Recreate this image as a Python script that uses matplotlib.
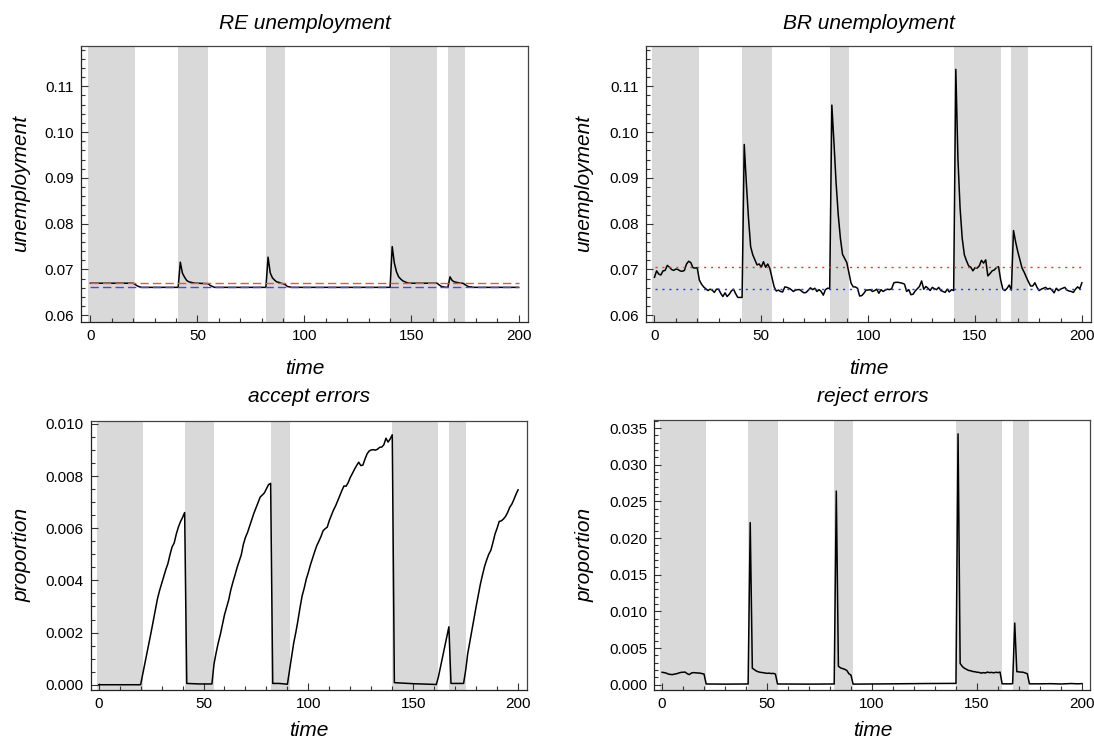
import matplotlib
matplotlib.use("Agg")
import matplotlib.pyplot as plt
from matplotlib.ticker import MultipleLocator, FixedLocator, FormatStrFormatter

plt.rcParams['font.family'] = ['Liberation Sans', 'DejaVu Sans']

# ---------------- data ----------------
BAND_START = [-1, 41, 82, 140, 167]
BAND_END = [21, 55, 91, 162, 175]

# RE unemployment
RE_T = [0, 20, 21, 22, 23, 24, 41, 42, 43, 44, 45, 46, 47, 48, 49, 50, 55, 56, 57, 58,
        82, 83, 84, 85, 86, 87, 88, 89, 90, 91, 92, 93, 94,
        140, 141, 142, 143, 144, 145, 146, 147, 148, 149, 150, 162, 163, 164, 165, 166, 167,
        168, 169, 170, 171, 172, 173, 174, 175, 176, 177, 178, 179, 200]
RE_U = [0.0670, 0.0670, 0.0667, 0.0664, 0.0662, 0.0661, 0.0661, 0.0716, 0.0692, 0.0683, 0.0676,
        0.0673, 0.0672, 0.0671, 0.0670, 0.0670, 0.0669, 0.0665, 0.0663, 0.0661,
        0.0661, 0.0727, 0.0693, 0.0682, 0.0677, 0.0673, 0.0672, 0.0670, 0.0669, 0.0667, 0.0663,
        0.0662, 0.0661,
        0.0661, 0.0750, 0.0714, 0.0695, 0.0684, 0.0679, 0.0675, 0.0673, 0.0671, 0.0670, 0.0670,
        0.0670, 0.0666, 0.0663, 0.0662, 0.0661, 0.0661,
        0.0684, 0.0676, 0.0673, 0.0672, 0.0671, 0.0670, 0.0670, 0.0667, 0.0664, 0.0662, 0.0662,
        0.0661, 0.0661]
RE_HIGH = 0.0670
RE_LOW = 0.0661

# BR unemployment (t = 0..200)
BR_U = [0.0683, 0.0697, 0.0690, 0.0688, 0.0697, 0.0698, 0.0709, 0.0705, 0.0700, 0.0698,
        0.0701, 0.0700, 0.0697, 0.0696, 0.0698, 0.0712, 0.0718, 0.0715, 0.0704, 0.0703,
        0.0704, 0.0677, 0.0668, 0.0662, 0.0658, 0.0654, 0.0657, 0.0655, 0.0650, 0.0657,
        0.0657, 0.0648, 0.0641, 0.0649, 0.0641, 0.0646, 0.0653, 0.0657, 0.0647, 0.0639,
        0.0639, 0.0639, 0.0973, 0.0888, 0.0812, 0.0750, 0.0732, 0.0721, 0.0710, 0.0712,
        0.0705, 0.0717, 0.0705, 0.0712, 0.0702, 0.0682, 0.0662, 0.0653, 0.0655, 0.0652,
        0.0651, 0.0662, 0.0661, 0.0659, 0.0656, 0.0652, 0.0655, 0.0656, 0.0656, 0.0652,
        0.0649, 0.0650, 0.0655, 0.0660, 0.0656, 0.0659, 0.0652, 0.0656, 0.0652, 0.0644,
        0.0656, 0.0659, 0.0659, 0.1059, 0.0976, 0.0888, 0.0819, 0.0768, 0.0733, 0.0724,
        0.0715, 0.0692, 0.0670, 0.0662, 0.0662, 0.0659, 0.0642, 0.0643, 0.0648, 0.0655,
        0.0655, 0.0656, 0.0652, 0.0654, 0.0657, 0.0648, 0.0656, 0.0652, 0.0655, 0.0657,
        0.0656, 0.0658, 0.0671, 0.0672, 0.0672, 0.0671, 0.0670, 0.0668, 0.0652, 0.0656,
        0.0645, 0.0646, 0.0653, 0.0658, 0.0663, 0.0675, 0.0657, 0.0663, 0.0659, 0.0654,
        0.0661, 0.0658, 0.0656, 0.0661, 0.0654, 0.0652, 0.0650, 0.0657, 0.0651, 0.0656,
        0.0654, 0.1137, 0.0941, 0.0834, 0.0768, 0.0732, 0.0719, 0.0708, 0.0705, 0.0697,
        0.0704, 0.0703, 0.0708, 0.0720, 0.0714, 0.0721, 0.0686, 0.0691, 0.0697, 0.0699,
        0.0704, 0.0706, 0.0677, 0.0657, 0.0654, 0.0659, 0.0666, 0.0655, 0.0785, 0.0760,
        0.0739, 0.0721, 0.0703, 0.0694, 0.0683, 0.0673, 0.0664, 0.0664, 0.0671, 0.0661,
        0.0654, 0.0657, 0.0659, 0.0661, 0.0657, 0.0659, 0.0655, 0.0649, 0.0659, 0.0654,
        0.0657, 0.0659, 0.0661, 0.0655, 0.0653, 0.0652, 0.0650, 0.0657, 0.0662, 0.0658,
        0.0671]
BR_T = list(range(len(BR_U)))
BR_HIGH = 0.0705
BR_LOW = 0.0657

# accept errors
AE_T = [0, 20, 21, 22, 23, 24, 25, 26, 27, 28, 29, 30, 31, 32, 33, 34, 35, 36, 37, 38, 39, 40, 41,
        42, 48, 54, 55, 56, 57, 58, 59, 60, 61, 62, 63, 64, 65, 66, 67, 68, 69, 70, 71, 72, 73,
        74, 75, 76, 77, 78, 79, 80, 81, 82,
        83, 86, 90, 91, 92, 93, 94, 95, 96, 97, 98, 99, 100, 101, 102, 103, 104, 105, 106, 107,
        108, 109, 110, 111, 112, 113, 114, 115, 116, 117, 118, 119, 120, 121, 122, 123, 124,
        125, 126, 127, 128, 129, 130, 131, 132, 133, 134, 135, 136, 137, 138, 139, 140,
        141, 150, 161, 162, 163, 164, 165, 166, 167, 168, 174, 175, 176, 177, 178, 179, 180,
        181, 182, 183, 184, 185, 186, 187, 188, 189, 190, 191, 192, 193, 194, 195, 196, 197,
        198, 199, 200]
AE_V = [0.0, 0.0, 0.00040, 0.00082, 0.00121, 0.00161, 0.00201, 0.00243, 0.00287, 0.00328,
        0.00360, 0.00387, 0.00413, 0.00441, 0.00464, 0.00498, 0.00528, 0.00543, 0.00577,
        0.00604, 0.00625, 0.00641, 0.00660,
        0.00005, 0.00003, 0.00003, 0.00080, 0.00122, 0.00160, 0.00192, 0.00230, 0.00268,
        0.00296, 0.00325, 0.00363, 0.00393, 0.00420, 0.00449, 0.00473, 0.00498, 0.00538,
        0.00565, 0.00584, 0.00608, 0.00632, 0.00657, 0.00677, 0.00698, 0.00719, 0.00727,
        0.00735, 0.00751, 0.00767, 0.00772,
        0.00005, 0.00005, 0.00002, 0.00055, 0.00110, 0.00160, 0.00200, 0.00245, 0.00295,
        0.00340, 0.00370, 0.00405, 0.00431, 0.00460, 0.00485, 0.00510, 0.00533, 0.00550,
        0.00568, 0.00590, 0.00598, 0.00604, 0.00630, 0.00650, 0.00670, 0.00686, 0.00705,
        0.00725, 0.00745, 0.00762, 0.00761, 0.00775, 0.00795, 0.00810, 0.00826, 0.00840,
        0.00853, 0.00840, 0.00842, 0.00865, 0.00885, 0.00896, 0.00900, 0.00901, 0.00899,
        0.00903, 0.00910, 0.00911, 0.00920, 0.00945, 0.00930, 0.00942, 0.00958,
        0.00008, 0.00004, 0.00001, 0.00030, 0.00068, 0.00105, 0.00143, 0.00182, 0.00222,
        0.00005, 0.00005, 0.00055, 0.00120, 0.00165, 0.00210, 0.00255, 0.00300, 0.00342,
        0.00385, 0.00420, 0.00453, 0.00478, 0.00500, 0.00515, 0.00545, 0.00578, 0.00600,
        0.00626, 0.00628, 0.00635, 0.00645, 0.00660, 0.00680, 0.00692, 0.00710, 0.00730,
        0.00747]

# reject errors
RJ_T = [0, 1, 2, 3, 4, 5, 6, 7, 8, 9, 10, 11, 12, 13, 14, 15, 16, 17, 18, 19, 20, 21, 30, 41,
        42, 43, 44, 45, 46, 47, 48, 49, 50, 51, 52, 53, 54, 55, 70, 82,
        83, 84, 85, 86, 87, 88, 89, 90, 91, 110, 125, 140,
        141, 142, 143, 144, 145, 146, 147, 148, 149, 150, 151, 152, 153, 154, 155, 156, 157,
        158, 159, 160, 161, 162, 166, 167,
        168, 169, 170, 171, 172, 173, 174, 175, 180, 185, 190, 195, 198, 200]
RJ_V = [0.00169, 0.00165, 0.00158, 0.00145, 0.00140, 0.00138, 0.00145, 0.00150, 0.00160,
        0.00168, 0.00170, 0.00172, 0.00150, 0.00138, 0.00160, 0.00165, 0.00162, 0.00160,
        0.00158, 0.00152, 0.00145, 0.00010, 0.00008, 0.00010,
        0.0221, 0.00225, 0.00205, 0.00185, 0.00175, 0.00168, 0.00165, 0.00160, 0.00155,
        0.00158, 0.00152, 0.00155, 0.00145, 0.00010, 0.00008, 0.00010,
        0.0264, 0.00252, 0.00230, 0.00220, 0.00210, 0.00195, 0.00150, 0.00130, 0.00008,
        0.00012, 0.00016, 0.00018,
        0.0342, 0.00290, 0.00250, 0.00225, 0.00210, 0.00195, 0.00190, 0.00180, 0.00177,
        0.00170, 0.00168, 0.00158, 0.00165, 0.00160, 0.00172, 0.00165, 0.00168, 0.00162,
        0.00170, 0.00165, 0.00172, 0.00012, 0.00012, 0.00014,
        0.0084, 0.00178, 0.00175, 0.00172, 0.00170, 0.00160, 0.00150, 0.00012, 0.00012,
        0.00014, 0.00010, 0.00016, 0.00012, 0.00015]

XMAJOR = [0, 50, 100, 150, 200]

# ---------------- layout ----------------
W, H = 1094, 746
fig = plt.figure(figsize=(W / 100, H / 100), dpi=100)


def add_ax(l, t, r, b):
    return fig.add_axes([l / W, 1 - b / H, (r - l) / W, (b - t) / H])


def style(ax, xlim, ylim, ymaj, ymin, fmt):
    ax.set_xlim(*xlim)
    ax.set_ylim(*ylim)
    for s, e in zip(BAND_START, BAND_END):
        ax.axvspan(s, e, color='#d9d9d9', lw=0, zorder=0)
    ax.xaxis.set_major_locator(FixedLocator(XMAJOR))
    ax.xaxis.set_minor_locator(MultipleLocator(10))
    ax.yaxis.set_major_locator(MultipleLocator(ymaj))
    ax.yaxis.set_minor_locator(MultipleLocator(ymin))
    ax.yaxis.set_major_formatter(FormatStrFormatter(fmt))
    ax.tick_params(which='both', direction='in', top=False, right=False,
                   labelsize=11, pad=5, width=0.8, color='#333333')
    ax.tick_params(which='major', length=4.7)
    ax.tick_params(which='minor', length=2.8)
    for name, sp in ax.spines.items():
        sp.set_linewidth(0.9)
        sp.set_color('#222222' if name in ('left', 'bottom') else '#444444')


def label(x, y, s, rot=0):
    fig.text(x / W, 1 - y / H, s, ha='center', va='center', rotation=rot,
             fontsize=15, fontstyle='italic')


# RE unemployment
ax1 = add_ax(81.3, 46, 527.6, 321.7)
style(ax1, (-4.25, 204.25), (0.0586, 0.1188), 0.01, 0.002, '%.2f')
ax1.plot(RE_T, RE_U, color='black', lw=1.1, zorder=2)
ax1.axhline(RE_HIGH, color='#ff4a4a', lw=1.0, ls=(0, (6, 3)), zorder=3, xmin=0.02, xmax=0.98)
ax1.axhline(RE_LOW, color='#3a4aff', lw=1.0, ls=(0, (6, 3)), zorder=3, xmin=0.02, xmax=0.98)

# BR unemployment
ax2 = add_ax(645.7, 46, 1091.3, 321.7)
style(ax2, (-4.1, 204.4), (0.0586, 0.1188), 0.01, 0.002, '%.2f')
ax2.plot(BR_T, BR_U, color='black', lw=1.1, zorder=2)
ax2.axhline(BR_HIGH, color='#ff3030', lw=1.0, ls=(0, (1.5, 3.5)), zorder=3, xmin=0.02, xmax=0.98)
ax2.axhline(BR_LOW, color='#3030ff', lw=1.0, ls=(0, (1.5, 3.5)), zorder=3, xmin=0.02, xmax=0.98)

# accept errors
ax3 = add_ax(90.7, 420.7, 526.9, 689.7)
style(ax3, (-3.8, 204.2), (-0.00019, 0.01012), 0.002, 0.0005, '%.3f')
ax3.plot(AE_T, AE_V, color='black', lw=1.1, zorder=2)

# reject errors
ax4 = add_ax(654.5, 420.3, 1090.3, 689.7)
style(ax4, (-3.6, 204.0), (-0.00068, 0.03605), 0.005, 0.001, '%.3f')
ax4.plot(RJ_T, RJ_V, color='black', lw=1.1, zorder=2)

# titles and axis labels
label(304.5, 23.5, 'RE unemployment')
label(868.5, 23.5, 'BR unemployment')
label(308.8, 397, 'accept errors')
label(872.4, 397, 'reject errors')
label(304.5, 369, 'time')
label(868.5, 369, 'time')
label(308.8, 730, 'time')
label(872.4, 730, 'time')
label(21, 184, 'unemployment', rot=90)
label(583.6, 184, 'unemployment', rot=90)
label(22, 555, 'proportion', rot=90)
label(585.4, 555, 'proportion', rot=90)

fig.savefig('out.png', dpi=100)
